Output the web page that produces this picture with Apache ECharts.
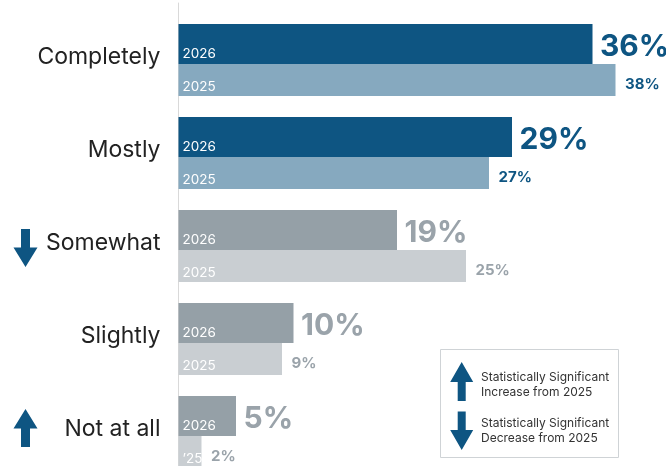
<!DOCTYPE html>
<html><head><meta charset="utf-8">
<script src="https://cdn.jsdelivr.net/npm/echarts@6/dist/echarts.min.js"></script>
<style>html,body{margin:0;padding:0;background:#fff}#c{width:666px;height:466px}</style>
</head><body><div id="c"></div>
<script>
const categories = ['Completely', 'Mostly', 'Somewhat', 'Slightly', 'Not at all'];
const values2026 = [36, 29, 19, 10, 5];
const values2025 = [38, 27, 25, 9, 2];
const yearLabels2026 = ['2026', '2026', '2026', '2026', '2026'];
const yearLabels2025 = ['2025', '2025', '2025', '2025', '\u201925'];
const highlighted = [true, true, false, false, false];
const sigChange = ['', '', 'down', '', 'up'];
const legendUpText = ['Statistically Significant', 'Increase from 2025'];
const legendDownText = ['Statistically Significant', 'Decrease from 2025'];

const BLUE = '#0e5582', LBLUE = '#86a9bf', GRAY = '#95a0a7', LGRAY = '#c9ced2', GRAYTXT = '#9aa3aa';
const FONT = 'Inter, "Noto Sans", sans-serif';
const pick = (i, a, b) => highlighted[i] ? a : b;

const chart = echarts.init(document.getElementById('c'), null, {renderer: 'canvas'});

function valueLabelData(vals) {
  return vals.map((v, i) => ({
    value: [v, categories[i]],
    label: {color: pick(i, BLUE, GRAYTXT)}
  }));
}

const option = {
  animation: false,
  backgroundColor: '#fff',
  grid: [
    {left: 178.5, top: 13.5, width: 460, height: 465, outerBoundsMode: 'none', containLabel: false},
    {left: 178, top: 3, width: 10, bottom: 0, outerBoundsMode: 'none'}
  ],
  xAxis: [
    {type: 'value', min: 0, max: 40, show: false, gridIndex: 0},
    {type: 'value', min: 0, max: 1, show: false, gridIndex: 1}
  ],
  yAxis: [
    {type: 'category', data: categories, inverse: true, gridIndex: 0,
     axisLine: {show: false}, axisTick: {show: false}, splitLine: {show: false},
     axisLabel: {fontSize: 23, color: '#222', margin: 18, fontFamily: FONT,
                 verticalAlign: 'bottom', lineHeight: 5}},
    {type: 'value', gridIndex: 1, min: 0, max: 1,
     axisLine: {show: true, lineStyle: {color: '#d9d9d9', width: 1}},
     axisLabel: {show: false}, axisTick: {show: false}, splitLine: {show: false}}
  ],
  series: [
    {name: '2026', type: 'bar', xAxisIndex: 0, yAxisIndex: 0, data: values2026,
     barWidth: 40, barGap: 0, silent: true,
     itemStyle: {color: p => pick(p.dataIndex, BLUE, GRAY)},
     label: {show: true, position: 'insideBottomLeft', distance: 4, offset: [0, 1],
             formatter: p => yearLabels2026[p.dataIndex],
             color: '#fff', fontSize: 13.5, fontFamily: FONT}},
    {name: '2025', type: 'bar', xAxisIndex: 0, yAxisIndex: 0, data: values2025,
     barWidth: 32, barGap: 0, silent: true,
     itemStyle: {color: p => pick(p.dataIndex, LBLUE, LGRAY)},
     label: {show: true, position: 'insideBottomLeft', distance: 4, offset: [0, 2],
             formatter: p => yearLabels2025[p.dataIndex],
             color: '#fff', fontSize: 13.5, fontFamily: FONT}},
    {name: 'v2026', type: 'scatter', xAxisIndex: 0, yAxisIndex: 0,
     data: valueLabelData(values2026), symbolSize: 1, silent: true,
     itemStyle: {color: 'rgba(0,0,0,0)', opacity: 1},
     label: {show: true, position: 'right', distance: 7, offset: [0, -13],
             formatter: p => p.value[0] + '%', fontSize: 30, fontWeight: 'bold', fontFamily: FONT}},
    {name: 'v2025', type: 'scatter', xAxisIndex: 0, yAxisIndex: 0,
     data: valueLabelData(values2025), symbolSize: 1, silent: true,
     itemStyle: {color: 'rgba(0,0,0,0)', opacity: 1},
     label: {show: true, position: 'right', distance: 9, offset: [0, 24.5],
             formatter: p => p.value[0] + '%', fontSize: 15, fontWeight: 'bold', fontFamily: FONT}}
  ]
};
chart.setOption(option);

function arrowPoints(cx, y0, y1, up, hw, sw, hh) {
  if (up) {
    return [[cx, y0], [cx + hw, y0 + hh], [cx + sw, y0 + hh], [cx + sw, y1],
            [cx - sw, y1], [cx - sw, y0 + hh], [cx - hw, y0 + hh]];
  }
  return [[cx, y1], [cx + hw, y1 - hh], [cx + sw, y1 - hh], [cx + sw, y0],
          [cx - sw, y0], [cx - sw, y1 - hh], [cx - hw, y1 - hh]];
}

const graphics = [];
sigChange.forEach((s, i) => {
  if (!s) return;
  const cy = chart.convertToPixel({yAxisIndex: 0}, categories[i]) + (s === 'up' ? -4 : 2);
  graphics.push({type: 'polygon', silent: true,
    shape: {points: arrowPoints(25.5, cy - 19, cy + 19, s === 'up', 12, 4.5, 19.5)},
    style: {fill: BLUE}});
});
graphics.push({type: 'rect', silent: true, shape: {x: 440.5, y: 349.5, width: 178, height: 108},
  style: {fill: '#fff', stroke: '#cfd3d6', lineWidth: 1}});
graphics.push({type: 'polygon', silent: true,
  shape: {points: arrowPoints(461.7, 362, 401, true, 11.5, 4, 20)}, style: {fill: BLUE}});
graphics.push({type: 'polygon', silent: true,
  shape: {points: arrowPoints(461.7, 411.5, 450, false, 11.5, 4, 20)}, style: {fill: BLUE}});
graphics.push({type: 'text', silent: true, x: 481, y: 385,
  style: {text: legendUpText.join('\n'), fill: '#333', font: '12px ' + FONT, lineHeight: 15.5, verticalAlign: 'middle'}});
graphics.push({type: 'text', silent: true, x: 481, y: 431,
  style: {text: legendDownText.join('\n'), fill: '#333', font: '12px ' + FONT, lineHeight: 15.5, verticalAlign: 'middle'}});
chart.setOption({graphic: graphics});
</script>
</body></html>
